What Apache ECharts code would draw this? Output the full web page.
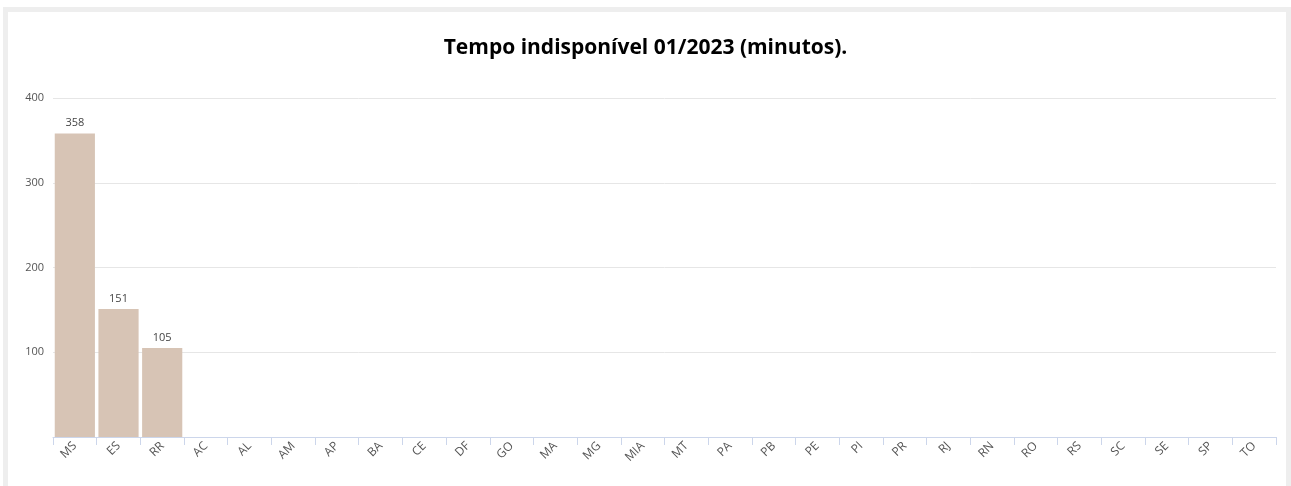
<!DOCTYPE html>
<html><head><meta charset="utf-8">
<script src="https://cdn.jsdelivr.net/npm/echarts@6/dist/echarts.min.js"></script>
<style>
html,body{margin:0;padding:0;background:#fff;}
#frame{position:absolute;left:3px;top:7px;width:1278px;height:490px;border:5px solid #eeeeee;border-bottom:none;background:#fff;}
#chart{position:absolute;left:0;top:0;width:1291px;height:486px;}
</style></head>
<body>
<div id="frame"></div>
<div id="chart"></div>
<script>
const categories = ["MS","ES","RR","AC","AL","AM","AP","BA","CE","DF","GO","MA","MG","MIA","MT","PA","PB","PE","PI","PR","RJ","RN","RO","RS","SC","SE","SP","TO"];
const values = [358,151,105,0,0,0,0,0,0,0,0,0,0,0,0,0,0,0,0,0,0,0,0,0,0,0,0,0];
const yTicks = {min:0,max:400,interval:100};
const titleText = "Tempo indisponível 01/2023 (minutos).";
const FONT = '"Open Sans", sans-serif';

const chart = echarts.init(document.getElementById('chart'));
chart.setOption({
  animation:false,
  title:{text:titleText,left:'center',top:33,textStyle:{fontFamily:FONT,fontWeight:'bold',fontSize:21,color:'#000'}},
  grid:{left:53,right:15,top:98,bottom:49},
  xAxis:{type:'category',data:categories,
    axisLine:{lineStyle:{color:'#ccd6eb',width:1}},
    axisTick:{show:true,length:8,lineStyle:{color:'#ccd6eb'}},
    axisLabel:{rotate:45,interval:0,fontSize:12,color:'#555',fontFamily:FONT,margin:7}},
  yAxis:{type:'value',min:yTicks.min,max:yTicks.max,interval:yTicks.interval,
    axisLine:{show:false},axisTick:{show:false},
    splitLine:{lineStyle:{color:'#e6e6e6'}},
    axisLabel:{fontSize:11,color:'#555',fontFamily:FONT,margin:9,
      formatter:v=>v===0?'':v}},
  series:[{type:'bar',data:values,barCategoryGap:'8%',
    itemStyle:{color:'#d7c4b5'},
    label:{show:true,position:'top',distance:5,fontSize:11,color:'#444',fontFamily:FONT,
      formatter:p=>p.value>0?p.value:''}}]
});
</script>
</body></html>
